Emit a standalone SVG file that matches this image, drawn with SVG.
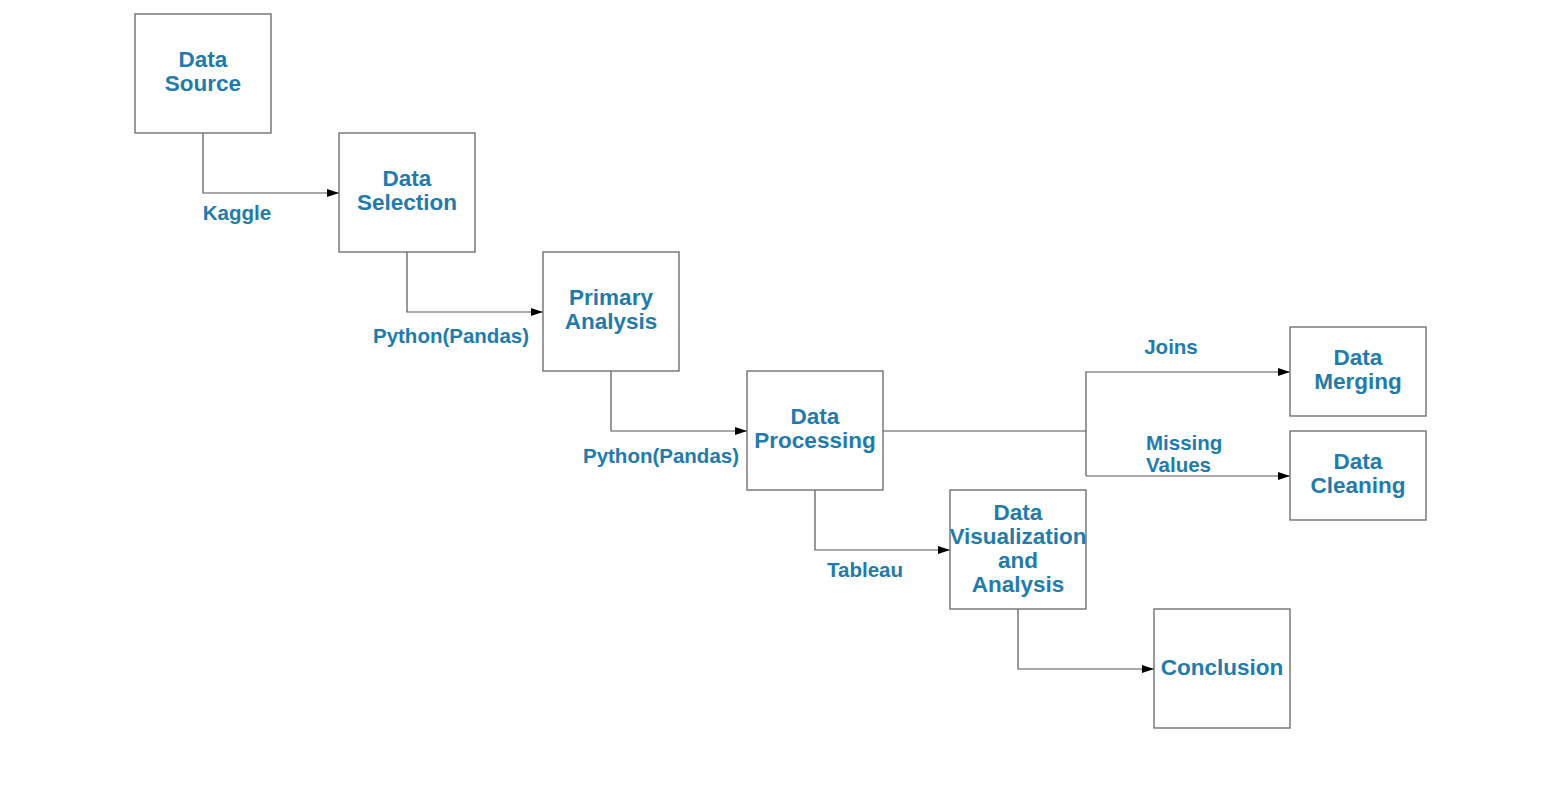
<svg xmlns="http://www.w3.org/2000/svg" width="1551" height="802" viewBox="0 0 1551 802">
<defs>
<marker id="arr" viewBox="0 0 12 8" refX="12" refY="4" markerWidth="12" markerHeight="8" markerUnits="userSpaceOnUse" orient="auto">
<path d="M0,0 L12,4 L0,8 Z" fill="#000"/>
</marker>
<style>
.box{fill:#fff;stroke:#666;stroke-width:1.3}
.nt{font-family:"Liberation Sans",Arial,sans-serif;font-weight:bold;font-size:22.5px;fill:#1f7bab;text-anchor:middle}
.lb{font-family:"Liberation Sans",Arial,sans-serif;font-weight:bold;font-size:20.5px;fill:#1f7bab}
.c{fill:none;stroke:#555;stroke-width:1.2}
</style>
</defs>
<rect width="1551" height="802" fill="#fff"/>
<g id="connectors">
<path class="c" d="M203,133 V193 H339" marker-end="url(#arr)"/>
<path class="c" d="M407,252 V312 H543" marker-end="url(#arr)"/>
<path class="c" d="M611,371 V431 H747" marker-end="url(#arr)"/>
<path class="c" d="M883,431 H1086"/>
<path class="c" d="M1086,476 V372 H1290" marker-end="url(#arr)"/>
<path class="c" d="M1086,476 H1290" marker-end="url(#arr)"/>
<path class="c" d="M815,490 V550 H950" marker-end="url(#arr)"/>
<path class="c" d="M1018,609 V669 H1154" marker-end="url(#arr)"/>
<text class="lb" x="237" y="220" text-anchor="middle">Kaggle</text>
<text class="lb" x="451" y="343" text-anchor="middle">Python(Pandas)</text>
<text class="lb" x="661" y="463" text-anchor="middle">Python(Pandas)</text>
<text class="lb" x="865" y="577" text-anchor="middle">Tableau</text>
<text class="lb" x="1171" y="354" text-anchor="middle">Joins</text>
<text class="lb" x="1146" y="450">Missing</text>
<text class="lb" x="1146" y="472">Values</text>
</g>
<g id="data-source"><rect class="box" x="135" y="14" width="136" height="119"/><text class="nt" x="203" y="67">Data</text><text class="nt" x="203" y="91">Source</text></g>
<g id="data-selection"><rect class="box" x="339" y="133" width="136" height="119"/><text class="nt" x="407" y="186">Data</text><text class="nt" x="407" y="210">Selection</text></g>
<g id="primary-analysis"><rect class="box" x="543" y="252" width="136" height="119"/><text class="nt" x="611" y="305">Primary</text><text class="nt" x="611" y="329">Analysis</text></g>
<g id="data-processing"><rect class="box" x="747" y="371" width="136" height="119"/><text class="nt" x="815" y="424">Data</text><text class="nt" x="815" y="448">Processing</text></g>
<g id="data-visualization"><rect class="box" x="950" y="490" width="136" height="119"/><text class="nt" x="1018" y="520">Data</text><text class="nt" x="1018" y="544">Visualization</text><text class="nt" x="1018" y="568">and</text><text class="nt" x="1018" y="592">Analysis</text></g>
<g id="conclusion"><rect class="box" x="1154" y="609" width="136" height="119"/><text class="nt" x="1222" y="675">Conclusion</text></g>
<g id="data-merging"><rect class="box" x="1290" y="327" width="136" height="89"/><text class="nt" x="1358" y="365">Data</text><text class="nt" x="1358" y="389">Merging</text></g>
<g id="data-cleaning"><rect class="box" x="1290" y="431" width="136" height="89"/><text class="nt" x="1358" y="469">Data</text><text class="nt" x="1358" y="493">Cleaning</text></g>
</svg>
